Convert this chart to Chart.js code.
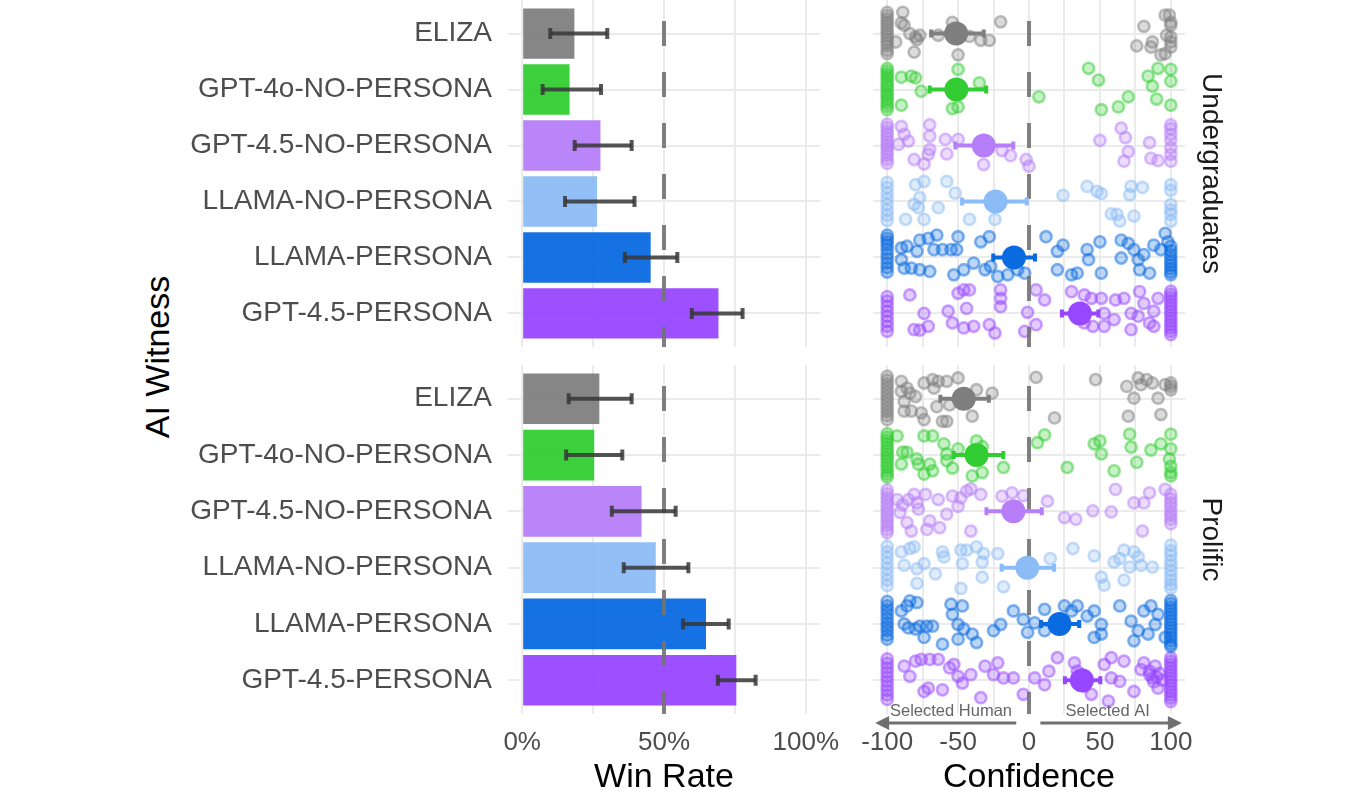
<!DOCTYPE html>
<html><head><meta charset="utf-8">
<script src="https://cdn.jsdelivr.net/npm/chart.js@4.4.1/dist/chart.umd.min.js"></script>
<style>
html,body{margin:0;padding:0;width:1366px;height:791px;overflow:hidden;background:#fff;font-family:"Liberation Sans",Arial,sans-serif;}
canvas{position:absolute;}
#yt{position:absolute;left:157px;top:357px;transform:translate(-50%,-50%) rotate(-90deg);font-size:34px;white-space:nowrap;color:#000;}
</style></head><body>
<div id="yt">AI Witness</div>
<canvas id="lt" width="850" height="347" style="left:0;top:0"></canvas>
<canvas id="lb" width="850" height="440" style="left:0;top:365px"></canvas>
<canvas id="rt" width="380" height="347" style="left:860px;top:0"></canvas>
<canvas id="rb" width="380" height="440" style="left:860px;top:365px"></canvas>
<script>
const witnesses = ['ELIZA','GPT-4o-NO-PERSONA','GPT-4.5-NO-PERSONA','LLAMA-NO-PERSONA','LLAMA-PERSONA','GPT-4.5-PERSONA'];
const colors = ['#7f7f7f','#32cd32','#b67ef8','#8cbcf5','#0a6ae0','#9747ff'];
const winTicks = [0,25,50,75,100];
const confTicks = [-100,-75,-50,-25,0,25,50,75,100];
const facets = ['Undergraduates','Prolific'];

const ugWin   = [18.4,16.7,27.6,26.4,45.3,69.2];
const ugWinLo = [9.9,7.2,18.5,15.1,36.2,59.8];
const ugWinHi = [30.0,27.8,38.6,39.6,54.7,77.7];
const prWin   = [27.2,25.4,42.1,47.1,64.8,75.5];
const prWinLo = [16.4,15.5,31.6,35.8,56.7,69.0];
const prWinHi = [38.6,35.3,54.1,58.6,72.8,82.3];

const ugConf   = [-51.4,-51.2,-31.9,-23.6,-10.6,35.9];
const ugConfLo = [-69.0,-70.0,-51.9,-47.2,-25.2,23.2];
const ugConfHi = [-31.9,-30.2,-11.1,-1.6,4.2,48.9];
const prConf   = [-46.0,-37.0,-11.0,-1.2,21.5,37.3];
const prConfLo = [-62.5,-53.1,-30.0,-19.3,8.5,25.3];
const prConfHi = [-28.3,-18.1,9.0,17.7,35.4,50.3];

// individual responses: [confidence, vertical jitter in row units]
const ugEliza = [[-100,-0.38],[-100,-0.32],[-100,-0.26],[-100,-0.2],[-100,-0.14],[-100,-0.08],[-100,-0.02],[-100,0.04],[-100,0.1],[-100,0.16],[-100,0.22],[-100,0.3],[-100,0.36],
[-89,-0.38],[-90,-0.19],[-88,-0.15],[-84,0],[-80,0.06],[-79,0.11],[-81,0.33],[-94,0.15],[-77,0.03],[-64,0.03],[-54,-0.2],[-50,0.38],[-42,0.05],[-34,0.12],[-28,0.12],[-20,-0.21],
[81,-0.13],[76,0.22],[87,0.15],[86,0.24],[96,-0.33],[99,-0.33],[100,-0.2],[100,-0.15],[97,0.03],[96,0.36],[100,0.15],[100,0.24],[93,0.38],[100,0.06]];
const ugGpt4o = [[-100,-0.38],[-100,-0.33],[-100,-0.27],[-100,-0.22],[-100,-0.16],[-100,-0.1],[-100,-0.05],[-100,0.01],[-100,0.07],[-100,0.12],[-100,0.18],[-100,0.24],[-100,0.3],[-100,0.36],
[-90,-0.22],[-83,-0.24],[-80,-0.21],[-76,0.03],[-90,0.28],[-50,-0.36],[-50,0.31],[-54,0.34],[-35,-0.12],[7,0.13],
[42,-0.38],[49,-0.17],[51,0.36],[63,0.31],[70,0.13],[84,-0.24],[87,-0.06],[91,-0.38],[90,0.17],[100,-0.36],[100,-0.15],[100,0.28]];
const ugGpt45np = [[-100,-0.38],[-100,-0.32],[-100,-0.25],[-100,-0.19],[-100,-0.12],[-100,-0.06],[-100,0],[-100,0.06],[-100,0.12],[-100,0.18],[-100,0.25],[-100,0.32],
[-90,-0.34],[-88,-0.2],[-85,-0.08],[-92,-0.02],[-81,0.25],[-74,0.33],[-70,-0.37],[-70,-0.17],[-70,0.07],[-71,0.16],[-59,-0.11],[-58,0.15],[-50,-0.11],[-32,0.34],[-19,0.09],[-13,0.18],[-2,0.25],[0,0.37],
[50,-0.09],[65,-0.31],[68,-0.14],[70,0.11],[67,0.28],[85,-0.05],[86,0.23],[91,0.27],[100,-0.37],[100,-0.3],[100,-0.2],[100,-0.1],[100,0.04],[100,0.16],[100,0.28]];
const ugLlamaNp = [[-100,-0.34],[-100,-0.25],[-100,-0.15],[-100,-0.05],[-100,0.05],[-100,0.15],[-100,0.25],[-100,0.34],
[-80,-0.3],[-74,-0.36],[-77,-0.07],[-81,0.05],[-78,0.11],[-87,0.32],[-74,0.32],[-64,0.11],[-58,-0.36],[-52,-0.15],[-42,0.32],[-24,0.32],
[24,-0.11],[41,-0.27],[48,-0.18],[51,-0.14],[58,0.22],[62,0.23],[64,0.35],[74,0.26],[71,-0.12],[72,-0.27],[80,-0.25],[100,-0.3],[100,-0.2],[100,0.05],[100,0.15],[100,0.23],[100,0.35]];
const ugLlamaP = [[-100,-0.4],[-100,-0.34],[-100,-0.28],[-100,-0.22],[-100,-0.14],[-100,-0.06],[-100,0.02],[-100,0.1],[-100,0.18],[-100,0.26],
[-90,-0.17],[-86,-0.2],[-79,-0.11],[-90,0.04],[-88,0.19],[-83,0.19],[-77,0.22],[-70,0.25],[-77,-0.31],[-71,-0.34],[-65,-0.4],[-67,-0.14],[-61,-0.14],[-55,-0.14],[-50,-0.37],[-51,-0.14],[-53,0.31],[-46,0.22],[-39,0.1],[-34,-0.28],[-28,-0.37],[-31,0.22],[-27,0.16],[-22,0.34],[-15,0.31],[-8,0.22],[-3,0.28],
[12,-0.37],[20,-0.11],[24,-0.22],[20,0.22],[30,0.31],[34,0.28],[41,-0.14],[42,0.04],[50,-0.28],[51,0.28],[65,-0.31],[70,-0.25],[65,0.01],[74,-0.14],[77,0.04],[81,-0.05],[78,0.22],[85,0.28],[96,-0.43],[98,-0.28],[93,-0.14],[88,-0.22],
[100,-0.2],[100,-0.12],[100,-0.05],[100,0.02],[100,0.08],[100,0.14],[100,0.2],[100,0.26],[100,0.31]];
const ugGpt45p = [[-100,-0.3],[-100,-0.22],[-100,-0.13],[-100,-0.04],[-100,0.05],[-100,0.14],[-100,0.23],[-100,0.32],
[-84,-0.33],[-74,0],[-81,0.29],[-77,0.3],[-71,0.23],[-57,-0.04],[-54,0.17],[-50,-0.36],[-46,-0.42],[-42,-0.42],[-44,-0.09],[-46,0.26],[-39,0.23],[-28,0.2],[-24,0.35],[-20,-0.42],[-20,-0.27],[-20,-0.12],[-1,-0.02],[-3,0.32],[5,0.2],[5,-0.42],[11,-0.24],
[30,-0.39],[39,-0.33],[44,-0.27],[51,-0.27],[53,0],[39,0.17],[45,0.23],[53,0.23],[61,-0.24],[67,-0.27],[60,0.11],[72,0],[72,0.29],[78,-0.39],[81,-0.18],[77,0.05],[85,0.17],[88,0.23],[91,-0.27],[88,-0.04],
[100,-0.4],[100,-0.34],[100,-0.28],[100,-0.22],[100,-0.16],[100,-0.1],[100,-0.04],[100,0.02],[100,0.08],[100,0.14],[100,0.2],[100,0.26],[100,0.32],[100,0.38]];

const prEliza = [[-100,-0.4],[-100,-0.33],[-100,-0.26],[-100,-0.19],[-100,-0.12],[-100,-0.05],[-100,0.02],[-100,0.09],[-100,0.16],[-100,0.23],[-100,0.3],[-100,0.37],
[-90,-0.31],[-90,-0.13],[-86,-0.19],[-84,-0.1],[-80,-0.04],[-88,0.05],[-88,0.22],[-83,0.22],[-76,0.25],[-74,0.37],[-74,-0.28],[-68,-0.34],[-67,-0.19],[-64,-0.31],[-58,-0.31],[-50,-0.37],[-65,0.14],[-61,0.4],[-58,0.4],[-56,0.11],[-40,0.31],[-37,-0.16],[-26,-0.1],[5,-0.38],[18,0.34],
[47,-0.34],[69,-0.22],[74,-0.01],[70,0.31],[77,-0.37],[79,-0.25],[83,-0.34],[87,-0.28],[91,-0.01],[93,0.28],[96,-0.25],[100,-0.28],[100,-0.22],[100,-0.16]];
const prGpt4o = [[-100,-0.38],[-100,-0.32],[-100,-0.26],[-100,-0.2],[-100,-0.14],[-100,-0.08],[-100,-0.02],[-100,0.04],[-100,0.1],[-100,0.16],[-100,0.22],[-100,0.28],[-100,0.34],[-100,0.39],
[-93,-0.34],[-89,-0.05],[-90,0.16],[-86,-0.05],[-79,0.07],[-78,0.16],[-74,-0.34],[-68,-0.34],[-74,0.34],[-68,0.28],[-70,0.16],[-60,-0.2],[-58,-0.02],[-58,0.1],[-54,0.23],[-50,-0.11],[-37,-0.25],[-33,-0.15],[-40,0.37],[-33,0.31],[-18,0.22],
[6,-0.22],[11,-0.36],[27,0.22],[46,-0.2],[50,-0.25],[51,-0.02],[60,0.28],[71,-0.37],[72,-0.14],[76,0.13],[86,-0.09],[93,-0.2],[100,-0.37],[100,-0.11],[99,0.07],[100,0.2],[100,0.31],[100,0.37]];
const prGpt45np = [[-100,-0.38],[-100,-0.31],[-100,-0.24],[-100,-0.17],[-100,-0.1],[-100,-0.03],[-100,0.04],[-100,0.11],[-100,0.18],[-100,0.25],[-100,0.32],[-100,0.38],
[-93,-0.21],[-89,-0.12],[-85,-0.21],[-81,-0.3],[-79,-0.15],[-78,-0.04],[-91,0.02],[-86,0.2],[-83,0.35],[-72,0.32],[-70,0.17],[-63,0.29],[-73,-0.3],[-64,-0.21],[-58,0.05],[-54,-0.27],[-48,-0.24],[-50,-0.09],[-44,-0.36],[-41,-0.4],[-41,0.35],[-34,-0.3],[-19,-0.27],[-12,-0.33],[-4,-0.28],[13,-0.18],
[25,0.11],[33,0.14],[45,-0.01],[58,0.01],[61,-0.39],[74,-0.15],[81,-0.15],[85,-0.33],[80,0.35],[96,-0.39],[100,-0.3],[100,-0.22],[100,-0.15],[100,-0.08],[100,0],[100,0.07],[100,0.14],[100,0.22]];
const prLlamaNp = [[-100,-0.38],[-100,-0.28],[-100,-0.18],[-100,-0.08],[-100,0.02],[-100,0.12],[-100,0.22],[-100,0.32],
[-90,-0.28],[-84,-0.34],[-81,-0.37],[-88,-0.04],[-79,0.02],[-74,-0.07],[-66,0.11],[-61,-0.28],[-60,-0.19],[-79,0.28],[-48,-0.31],[-47,-0.07],[-44,-0.31],[-37,-0.37],[-33,-0.1],[-32,-0.25],[-33,0.17],[-22,-0.25],[-48,0.37],[-18,0.34],
[15,-0.16],[31,-0.34],[46,-0.21],[51,0.17],[53,0.31],[60,-0.1],[64,-0.16],[67,-0.31],[71,-0.01],[74,-0.28],[77,-0.19],[79,-0.04],[67,0.22],[87,-0.01],[100,-0.4],[100,-0.3],[100,-0.22],[100,-0.12],[100,-0.04],[100,0.05],[100,0.14],[100,0.22],[100,0.3],[100,0.37]];
const prLlamaP = [[-100,-0.4],[-100,-0.32],[-100,-0.25],[-100,-0.18],[-100,-0.1],[-100,-0.02],[-100,0.05],[-100,0.12],[-100,0.2],[-100,0.27],
[-90,-0.23],[-86,-0.32],[-84,-0.41],[-79,-0.38],[-88,0],[-85,0.07],[-80,0.09],[-77,0.04],[-72,0.04],[-68,0.04],[-74,0.24],[-61,0.36],[-55,-0.35],[-54,-0.17],[-47,-0.32],[-50,0.01],[-46,0.09],[-50,0.27],[-40,0.18],[-37,0.33],[-25,0.12],[-20,0.01],[-11,-0.23],[-4,-0.08],[-1,0.15],
[4,-0.02],[11,-0.26],[11,0.12],[25,-0.32],[30,-0.23],[34,-0.32],[41,-0.14],[46,-0.23],[51,0.01],[51,0.18],[46,0.24],[64,-0.32],[72,-0.05],[77,0.12],[74,0.3],[81,-0.23],[86,-0.32],[89,0.01],[91,-0.17],[84,0.18],[96,0.24],
[100,-0.42],[100,-0.36],[100,-0.3],[100,-0.24],[100,-0.18],[100,-0.12],[100,-0.06],[100,0],[100,0.06],[100,0.12],[100,0.18],[100,0.24],[100,0.3],[100,0.36],[100,0.4]];
const prGpt45p = [[-100,-0.38],[-100,-0.3],[-100,-0.22],[-100,-0.14],[-100,-0.06],[-100,0.02],[-100,0.1],[-100,0.18],[-100,0.26],[-100,0.34],
[-88,-0.25],[-84,-0.07],[-80,-0.34],[-76,-0.37],[-70,-0.37],[-64,-0.37],[-74,0.2],[-71,0.14],[-61,0.17],[-56,-0.22],[-53,-0.28],[-50,-0.07],[-47,0.05],[-41,-0.1],[-34,0.31],[-31,-0.25],[-25,-0.1],[-22,-0.31],[-18,-0.04],[-11,-0.04],[-4,0.25],[4,-0.04],[11,0.08],[14,-0.16],
[20,-0.4],[32,-0.31],[34,-0.16],[39,0.11],[44,0.25],[53,-0.28],[56,0.37],[58,-0.4],[58,-0.04],[64,0.02],[67,-0.34],[74,0.2],[79,-0.19],[81,-0.31],[85,-0.16],[89,-0.25],[87,-0.04],[91,0.14],[85,-0.1],[90,-0.06],[92,-0.12],[88,0.03],[94,0],
[100,-0.4],[100,-0.34],[100,-0.28],[100,-0.22],[100,-0.16],[100,-0.1],[100,-0.04],[100,0.02],[100,0.08],[100,0.14],[100,0.2],[100,0.26],[100,0.32],[100,0.38]];

const FAM = '"Liberation Sans", Arial, sans-serif';
function alpha(hex, a){const n=parseInt(hex.slice(1),16);return 'rgba('+(n>>16)+','+((n>>8)&255)+','+(n&255)+','+a+')';}
const GRID = {color:'#ebebeb', lineWidth:2, drawTicks:false};
function noPad(s){s.paddingTop=0;s.paddingBottom=0;s.paddingLeft=0;s.paddingRight=0;}

function dashLine(chart, value){
  const ctx = chart.ctx, a = chart.chartArea, x = chart.scales.x.getPixelForValue(value);
  ctx.save();
  ctx.strokeStyle = 'rgba(115,115,115,0.9)'; ctx.lineWidth = 4;
  ctx.setLineDash([25,26]); ctx.lineDashOffset = 30;
  ctx.beginPath(); ctx.moveTo(x, a.top); ctx.lineTo(x, a.bottom); ctx.stroke();
  ctx.restore();
}
function errBar(ctx, xs, ys, lo, hi, i, color, lw, capH){
  const y = ys.getPixelForValue(i), x1 = xs.getPixelForValue(lo), x2 = xs.getPixelForValue(hi);
  ctx.strokeStyle = color; ctx.lineWidth = lw; ctx.setLineDash([]);
  ctx.beginPath(); ctx.moveTo(x1, y); ctx.lineTo(x2, y); ctx.stroke();
  ctx.lineWidth = 4;
  ctx.beginPath(); ctx.moveTo(x1, y-capH/2); ctx.lineTo(x1, y+capH/2);
  ctx.moveTo(x2, y-capH/2); ctx.lineTo(x2, y+capH/2); ctx.stroke();
}

function winChart(id, vals, lo, hi, showX){
  return new Chart(document.getElementById(id), {
    type: 'bar',
    data: {datasets: [{data: vals.map((v,i)=>({x:v, y:i})), backgroundColor: colors.map(c=>alpha(c,0.95)), borderWidth:0, categoryPercentage:1, barPercentage:0.9}]},
    options: {
      indexAxis:'y', responsive:false, animation:false, events:[],
      layout:{autoPadding:false, padding:{left:0,right:30,top:0,bottom:0}},
      plugins:{legend:{display:false}, tooltip:{enabled:false}},
      scales:{
        x:{type:'linear', min:-5, max:105, offset:false,
           afterBuildTicks:s=>{s.ticks = winTicks.map(v=>({value:v}));},
           grid:Object.assign({offset:false}, GRID), border:{display:false},
           ticks:{display:showX, autoSkip:false, maxRotation:0, minRotation:0, padding:13, color:'#4d4d4d', font:{size:26, family:FAM}, callback:v=>(v%50===0 ? v+'%' : '')},
           title:{display:showX, text:'Win Rate', color:'#000', font:{size:34, family:FAM}, padding:{top:0,bottom:7}},
           afterFit:s=>{s.height = showX ? 91 : 0; noPad(s);}},
        y:{type:'linear', min:-0.6, max:5.6, reverse:true, offset:false,
           afterBuildTicks:s=>{s.ticks = witnesses.map((w,i)=>({value:i}));},
           grid:Object.assign({offset:false}, GRID), border:{display:false},
           ticks:{autoSkip:false, padding:16, color:'#4d4d4d', font:{size:28, family:FAM}, callback:v=>witnesses[v]},
           afterFit:s=>{s.width = 508; noPad(s);}}
      }
    },
    plugins:[{id:'winExtras', afterDatasetsDraw(chart){
      dashLine(chart, 50);
      const ctx = chart.ctx; ctx.save();
      for(let i=0;i<vals.length;i++) errBar(ctx, chart.scales.x, chart.scales.y, lo[i], hi[i], i, 'rgba(55,55,55,0.85)', 4, 11);
      ctx.restore();
    }}]
  });
}

function confChart(id, jitter, means, lo, hi, facet, showX){
  const datasets = jitter.map((pts,i)=>({data: pts.map(p=>({x:p[0], y:i+p[1]})), pointRadius:5.6, pointBackgroundColor:alpha(colors[i],0.28), pointBorderColor:alpha(colors[i],0.5), pointBorderWidth:2.6, order:1}));
  datasets.push({data: means.map((v,i)=>({x:v, y:i})), pointRadius:12, pointBackgroundColor:colors, pointBorderWidth:0, order:0, isMeans:true});
  const extras = [{id:'confExtras', beforeDatasetDraw(chart, args){
    if(!chart.data.datasets[args.index].isMeans) return;
    dashLine(chart, 0);
    const ctx = chart.ctx; ctx.save();
    for(let i=0;i<means.length;i++) errBar(ctx, chart.scales.x, chart.scales.y, lo[i], hi[i], i, colors[i], 4, 8);
    ctx.restore();
  }}];
  if(showX) extras.push({id:'arrows', afterDraw(chart){
    const ctx = chart.ctx, xs = chart.scales.x, b = chart.chartArea.bottom;
    ctx.save();
    ctx.fillStyle = '#666'; ctx.font = '16.5px '+FAM; ctx.textAlign = 'center'; ctx.textBaseline = 'alphabetic';
    ctx.fillText('Selected Human', xs.getPixelForValue(-55), b+2);
    ctx.fillText('Selected AI', xs.getPixelForValue(55.5), b+2);
    const y = b + 9;
    const arrow = (from, to) => {
      const x1 = xs.getPixelForValue(from), x2 = xs.getPixelForValue(to), d = Math.sign(x2-x1);
      ctx.strokeStyle = '#707070'; ctx.lineWidth = 3;
      ctx.beginPath(); ctx.moveTo(x1, y); ctx.lineTo(x2 - d*10, y); ctx.stroke();
      ctx.fillStyle = '#707070';
      ctx.beginPath(); ctx.moveTo(x2, y); ctx.lineTo(x2 - d*14, y-7); ctx.lineTo(x2 - d*14, y+7); ctx.closePath(); ctx.fill();
    };
    arrow(-9, -108.5); arrow(8, 107.8);
    ctx.restore();
  }});
  return new Chart(document.getElementById(id), {
    type:'scatter',
    data:{datasets},
    options:{
      responsive:false, animation:false, events:[],
      layout:{autoPadding:false, padding:{left:13,right:0,top:0,bottom:0}},
      plugins:{legend:{display:false}, tooltip:{enabled:false}},
      scales:{
        x:{type:'linear', min:-110, max:110,
           afterBuildTicks:s=>{s.ticks = confTicks.map(v=>({value:v}));},
           grid:GRID, border:{display:false},
           ticks:{display:showX, autoSkip:false, maxRotation:0, minRotation:0, padding:13, color:'#4d4d4d', font:{size:26, family:FAM}, callback:v=>(v%50===0 ? String(v) : '')},
           title:{display:showX, text:'Confidence', color:'#000', font:{size:34, family:FAM}, padding:{top:0,bottom:7}},
           afterFit:s=>{s.height = showX ? 91 : 0; noPad(s);}},
        y:{type:'linear', min:-0.6, max:5.6, reverse:true,
           afterBuildTicks:s=>{s.ticks = witnesses.map((w,i)=>({value:i}));},
           grid:GRID, border:{display:false}, ticks:{display:false},
           afterFit:s=>{s.width = 0; noPad(s);}},
        facet:{type:'linear', position:'right', grid:{display:false}, border:{display:false}, ticks:{display:false},
           title:{display:true, text:facet, color:'#1a1a1a', font:{size:28, family:FAM}, padding:{top:12,bottom:0}},
           afterFit:s=>{s.width = 55; noPad(s);}}
      }
    },
    plugins:extras
  });
}

winChart('lt', ugWin, ugWinLo, ugWinHi, false);
winChart('lb', prWin, prWinLo, prWinHi, true);
confChart('rt', [ugEliza, ugGpt4o, ugGpt45np, ugLlamaNp, ugLlamaP, ugGpt45p], ugConf, ugConfLo, ugConfHi, facets[0], false);
confChart('rb', [prEliza, prGpt4o, prGpt45np, prLlamaNp, prLlamaP, prGpt45p], prConf, prConfLo, prConfHi, facets[1], true);
</script>
</body></html>
